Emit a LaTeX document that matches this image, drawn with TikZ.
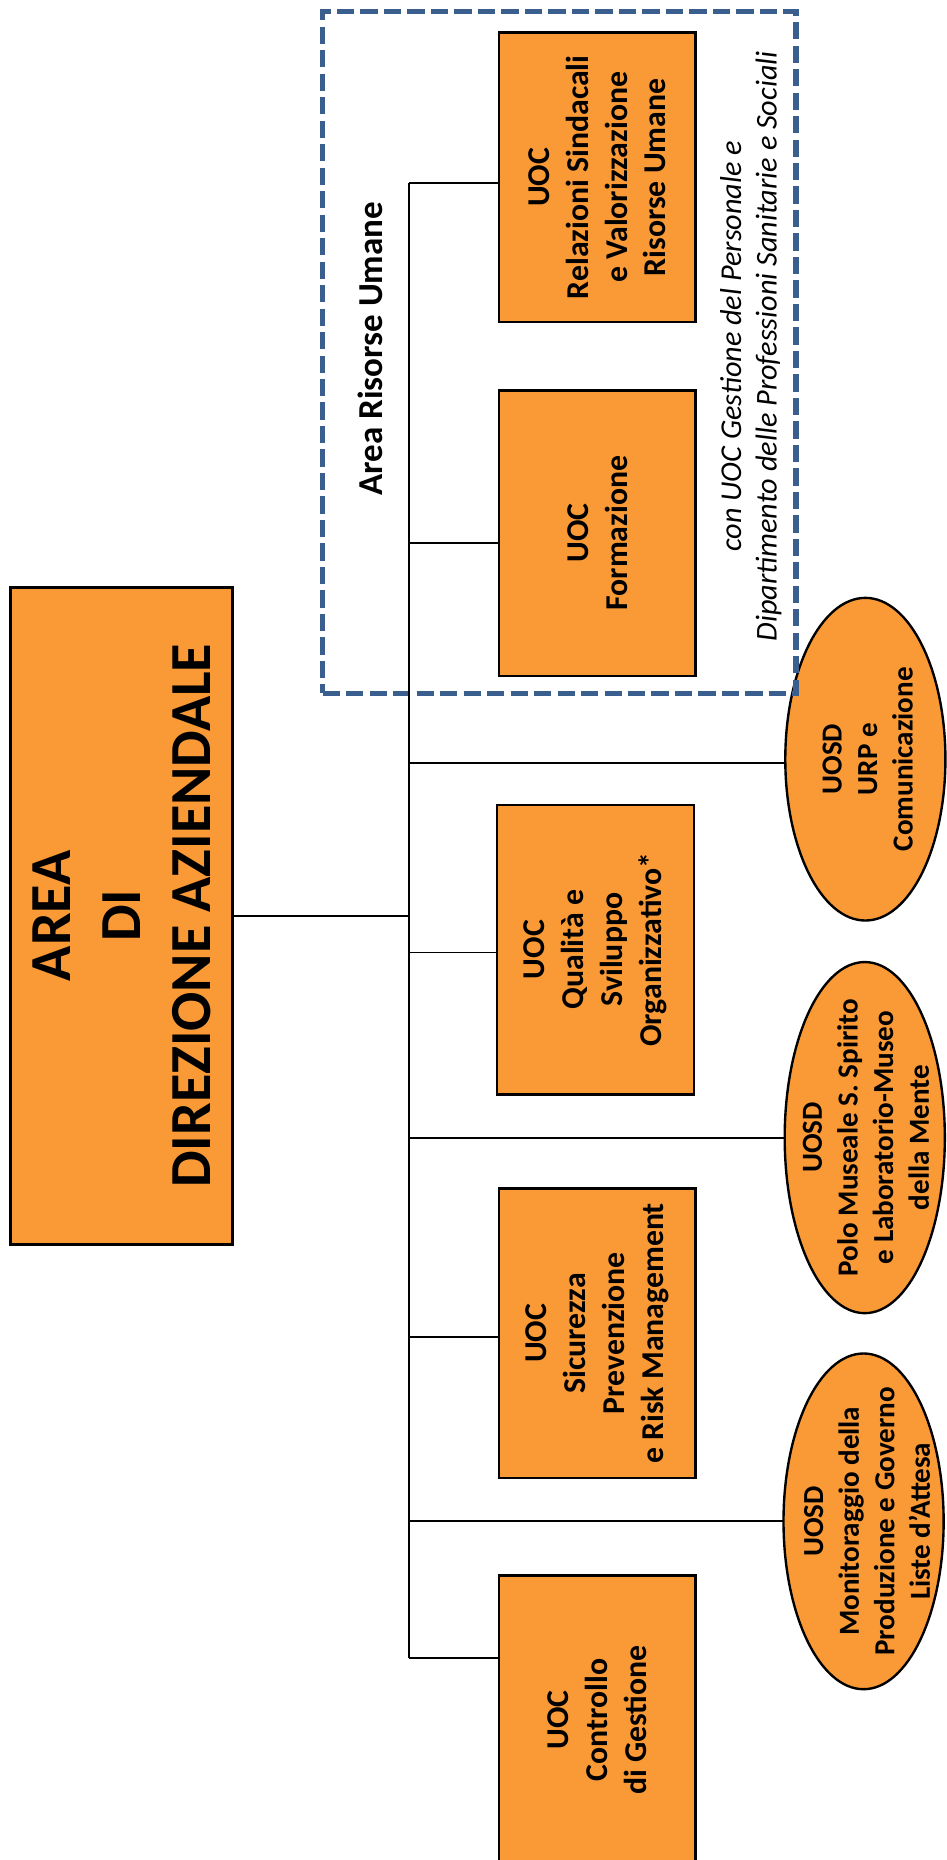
\documentclass[tikz,border=0pt]{standalone}
\usepackage{fontspec}
\setmainfont{Carlito}
\usetikzlibrary{shapes.geometric}
\definecolor{unitfill}{RGB}{249,154,54}
\definecolor{areablue}{RGB}{58,94,142}
\begin{document}
\begin{tikzpicture}[x=1pt,y=-1pt,
  unit/.style={draw=black, line width=2.2pt, fill=unitfill, rotate=90,
    inner sep=0pt, outer sep=0pt, align=center,
    font=\bfseries\fontsize{26.8}{32.8}\selectfont},
  ubox/.style={unit, rectangle, minimum width=244pt, minimum height=166pt},
  uoval/.style={unit, ellipse, line width=2pt, minimum height=135pt},
  uotext/.style={rotate=90, inner sep=0pt, align=center,
    font=\bfseries\fontsize{24.5}{30}\selectfont},
  link/.style={line width=1.6pt},
]
\useasboundingbox (0,0) rectangle (798,1568);
\clip (0,0) rectangle (798,1568);

% head of the area
\node[unit, rectangle, line width=2.5pt, minimum width=554pt, minimum height=186.5pt,
  font=\bfseries\fontsize{49}{59}\selectfont] (main) at (102.5,772)
  {AREA\\DI\\DIREZIONE AZIENDALE};

% complex operating units
\node[ubox] (rel)  at (503.5,149.5) {UOC\\Relazioni Sindacali\\e Valorizzazione\\Risorse Umane};
\node[ubox, minimum width=241pt] (form) at (503.5,449.5) {UOC\\Formazione};
\node[ubox] (qual) at (502,800.5)  {UOC\\Qualità e\\Sviluppo\\Organizzativo*};
\node[ubox] (sic)  at (503.5,1124) {UOC\\Sicurezza\\Prevenzione\\e Risk Management};
\node[ubox] (ctrl) at (503.5,1450) {UOC\\Controllo\\di Gestione};

% departmental simple units
\node[uoval, minimum width=272pt] (urp)  at (729.5,640) {};
\node[uoval, minimum width=296pt] (polo) at (729,959)  {};
\node[uoval, minimum width=283pt] (mon)  at (728,1282.5) {};
\node[uotext] (urptext)  at ([xshift=2pt]urp.center)  {UOSD\\URP e\\Comunicazione};
\node[uotext] (polotext) at ([xshift=1pt]polo.center) {UOSD\\Polo Museale S. Spirito\\e Laboratorio-Museo\\della Mente};
\node[uotext] (montext)  at ([xshift=3pt]mon.center)  {UOSD\\Monitoraggio della\\Produzione e Governo\\Liste d’Attesa};

% human resources area
\node[draw=areablue, line width=4.3pt, dash pattern=on 14.5pt off 5.3pt,
  minimum width=399pt, minimum height=575pt, inner sep=0pt] (hrarea) at (471.5,297) {};
\node[rotate=90, font=\bfseries\fontsize{29.5}{36}\selectfont] (hrlabel) at (312,294) {Area Risorse Umane};
\node[rotate=90, align=center, font=\itshape\fontsize{25.5}{30}\selectfont] (hrnote) at (633,292)
  {con UOC Gestione del Personale e\\Dipartimento delle Professioni Sanitarie e Sociali};

% spine and branches
\coordinate (k1) at (345,154);
\coordinate (k2) at (345,458);
\coordinate (k3) at (345,643);
\coordinate (k4) at (345,803);
\coordinate (k5) at (345,959);
\coordinate (k6) at (345,1127);
\coordinate (k7) at (345,1282.5);
\coordinate (k8) at (345,1398);
\draw[link] (k1) -- (k8);
\draw[link] (main.south) -- (main.south -| k1);
\draw[link] (k1) -- (k1 -| rel.north);
\draw[link] (k2) -- (k2 -| form.north);
\draw[link] (k3) -- (k3 -| urp.north);
\draw[link] (k4) -- (k4 -| qual.north);
\draw[link] (k5) -- (k5 -| polo.north);
\draw[link] (k6) -- (k6 -| sic.north);
\draw[link] (k7) -- (k7 -| mon.north);
\draw[link] (k8) -- (k8 -| ctrl.north);
\end{tikzpicture}
\end{document}
